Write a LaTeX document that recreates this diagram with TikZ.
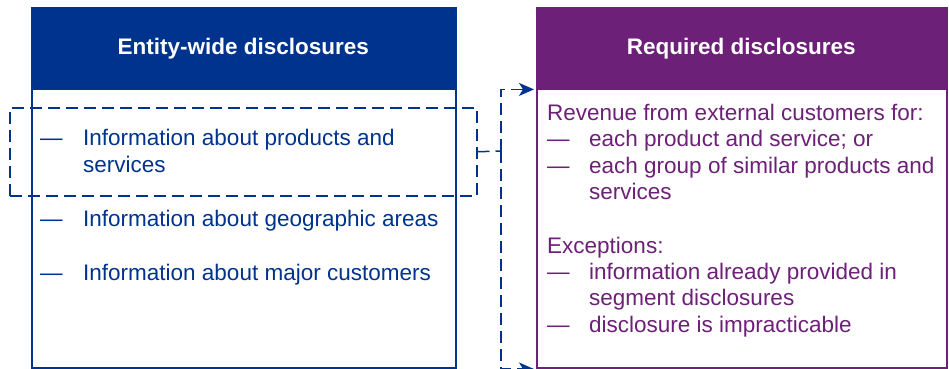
\documentclass[tikz,border=0pt]{standalone}
\usepackage{fontspec}
\setmainfont{Liberation Sans}
\usetikzlibrary{arrows.meta}
\definecolor{kblue}{HTML}{00338D}
\definecolor{kpurple}{HTML}{6D2077}
\begin{document}
\begin{tikzpicture}[x=1pt,y=-1pt,
  bodyfont/.style={font=\fontsize{22.5}{26.5}\selectfont},
  ltxt/.style={bodyfont, anchor=base west, inner sep=0pt, text=kblue},
  rtxt/.style={bodyfont, anchor=base west, inner sep=0pt, text=kpurple},
  frame/.style={draw, line width=1.5pt, anchor=north west, inner sep=0pt},
  headbox/.style={anchor=north west, inner sep=0pt, text=white,
    font=\fontsize{22.5}{26}\selectfont\bfseries},
  dashline/.style={draw=kblue, line width=1.5pt, dash pattern=on 12pt off 6pt},
  arrowtip/.style={-{Stealth[length=15pt,width=13pt,inset=4pt]}}
]
\useasboundingbox (0,0) rectangle (949,368);
% left box
\node[frame, draw=kblue, minimum width=424pt, minimum height=360pt] (lbox) at (31,7) {};
\node[headbox, fill=kblue, minimum width=424pt, minimum height=83pt] (lhead) at (31,7) {Entity-wide disclosures};
% right box
\node[frame, draw=kpurple, minimum width=410pt, minimum height=360pt] (rbox) at (536,7) {};
\node[headbox, fill=kpurple, minimum width=410pt, minimum height=83pt] (rhead) at (536,7) {Required disclosures};
% left text
\node[ltxt] (l1d) at (40,145) {—};
\node[ltxt] (l1a) at (83,145) {Information about products and};
\node[ltxt] (l1b) at (83,172) {services};
\node[ltxt] (l2d) at (40,226) {—};
\node[ltxt] (l2a) at (83,226) {Information about geographic areas};
\node[ltxt] (l3d) at (40,280) {—};
\node[ltxt] (l3a) at (83,280) {Information about major customers};
% right text
\node[rtxt] (r0) at (547,120) {Revenue from external customers for:};
\node[rtxt] (r1d) at (547,146) {—};
\node[rtxt] (r1a) at (589,146) {each product and service; or};
\node[rtxt] (r2d) at (547,173) {—};
\node[rtxt] (r2a) at (589,173) {each group of similar products and};
\node[rtxt] (r2b) at (589,199) {services};
\node[rtxt] (r3) at (547,253) {Exceptions:};
\node[rtxt] (r4d) at (547,279) {—};
\node[rtxt] (r4a) at (589,279) {information already provided in};
\node[rtxt] (r4b) at (589,305) {segment disclosures};
\node[rtxt] (r5d) at (547,332) {—};
\node[rtxt] (r5a) at (589,332) {disclosure is impracticable};
% dashed highlight
\node[dashline, anchor=north west, inner sep=0pt, minimum width=467pt, minimum height=88pt] (dbox) at (9,107) {};
\coordinate (junc) at (501,151);
\draw[dashline] (dbox.east) -- (junc);
\draw[dashline, arrowtip] (junc) |- ([yshift=1pt,xshift=-2pt]rhead.south west);
\draw[dashline, arrowtip] (junc) |- ([yshift=-0.5pt,xshift=-2pt]rbox.south west);
\end{tikzpicture}
\end{document}
